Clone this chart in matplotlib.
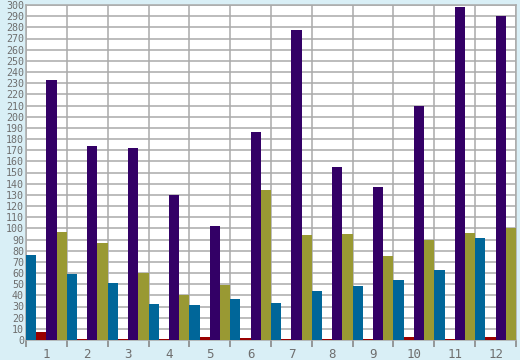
import matplotlib
matplotlib.use('Agg')
import numpy as np
import matplotlib.pyplot as plt
from matplotlib.ticker import MultipleLocator, FixedLocator

# data
groups = ['1', '2', '3', '4', '5', '6', '7', '8', '9', '10', '11', '12']
blue = [76, 59, 51, 32, 31, 37, 33, 44, 48, 54, 63, 91]
red = [7, 1, 0.5, 0.5, 3, 2, 1, 1, 0.5, 3, 1, 3]
purple = [233, 174, 172, 130, 102, 186, 278, 155, 137, 210, 298, 290]
olive = [97, 87, 60, 40, 49, 134, 94, 95, 75, 90, 96, 100]

series = [blue, red, purple, olive]
colors = ['#006699', '#990000', '#330066', '#999933']

bg = '#d9eff6'
grid_col = '#aaaaaa'
txt_col = '#6e6e6e'

fig = plt.figure(figsize=(5.2, 3.6), dpi=100, facecolor=bg)
ax = fig.add_axes([26 / 520, 1 - 340 / 360, 490 / 520, 335 / 360])
ax.set_facecolor('white')

x = np.arange(1, len(groups) + 1)
w = 0.25
for k, (vals, c) in enumerate(zip(series, colors)):
    ax.bar(x - 0.5 + w / 2 + k * w, vals, width=w, color=c, zorder=3, linewidth=0)

ax.set_xlim(0.5, len(groups) + 0.5)
ax.set_ylim(0, 300)

ax.yaxis.set_major_locator(MultipleLocator(10))
ax.set_xticks(x)
ax.set_xticklabels(groups)
ax.xaxis.set_minor_locator(FixedLocator(np.arange(0.5, len(groups) + 1, 1)))

ax.tick_params(axis='y', length=0, pad=1.5, labelsize=7.2, labelcolor=txt_col)
ax.tick_params(axis='x', which='major', length=0, pad=6, labelsize=9, labelcolor=txt_col)
ax.tick_params(axis='x', which='minor', length=5, width=1.2, color='#888888')

for lab in ax.get_xticklabels() + ax.get_yticklabels():
    lab.set_fontfamily('DejaVu Sans Mono')

ax.grid(axis='y', which='major', color=grid_col, linewidth=1.1, zorder=0)
ax.grid(axis='x', which='minor', color=grid_col, linewidth=1.1, zorder=0)
ax.set_axisbelow(True)

for s in ax.spines.values():
    s.set_color(grid_col)
    s.set_linewidth(1.1)

fig.savefig('out.png', dpi=100, facecolor=bg)
